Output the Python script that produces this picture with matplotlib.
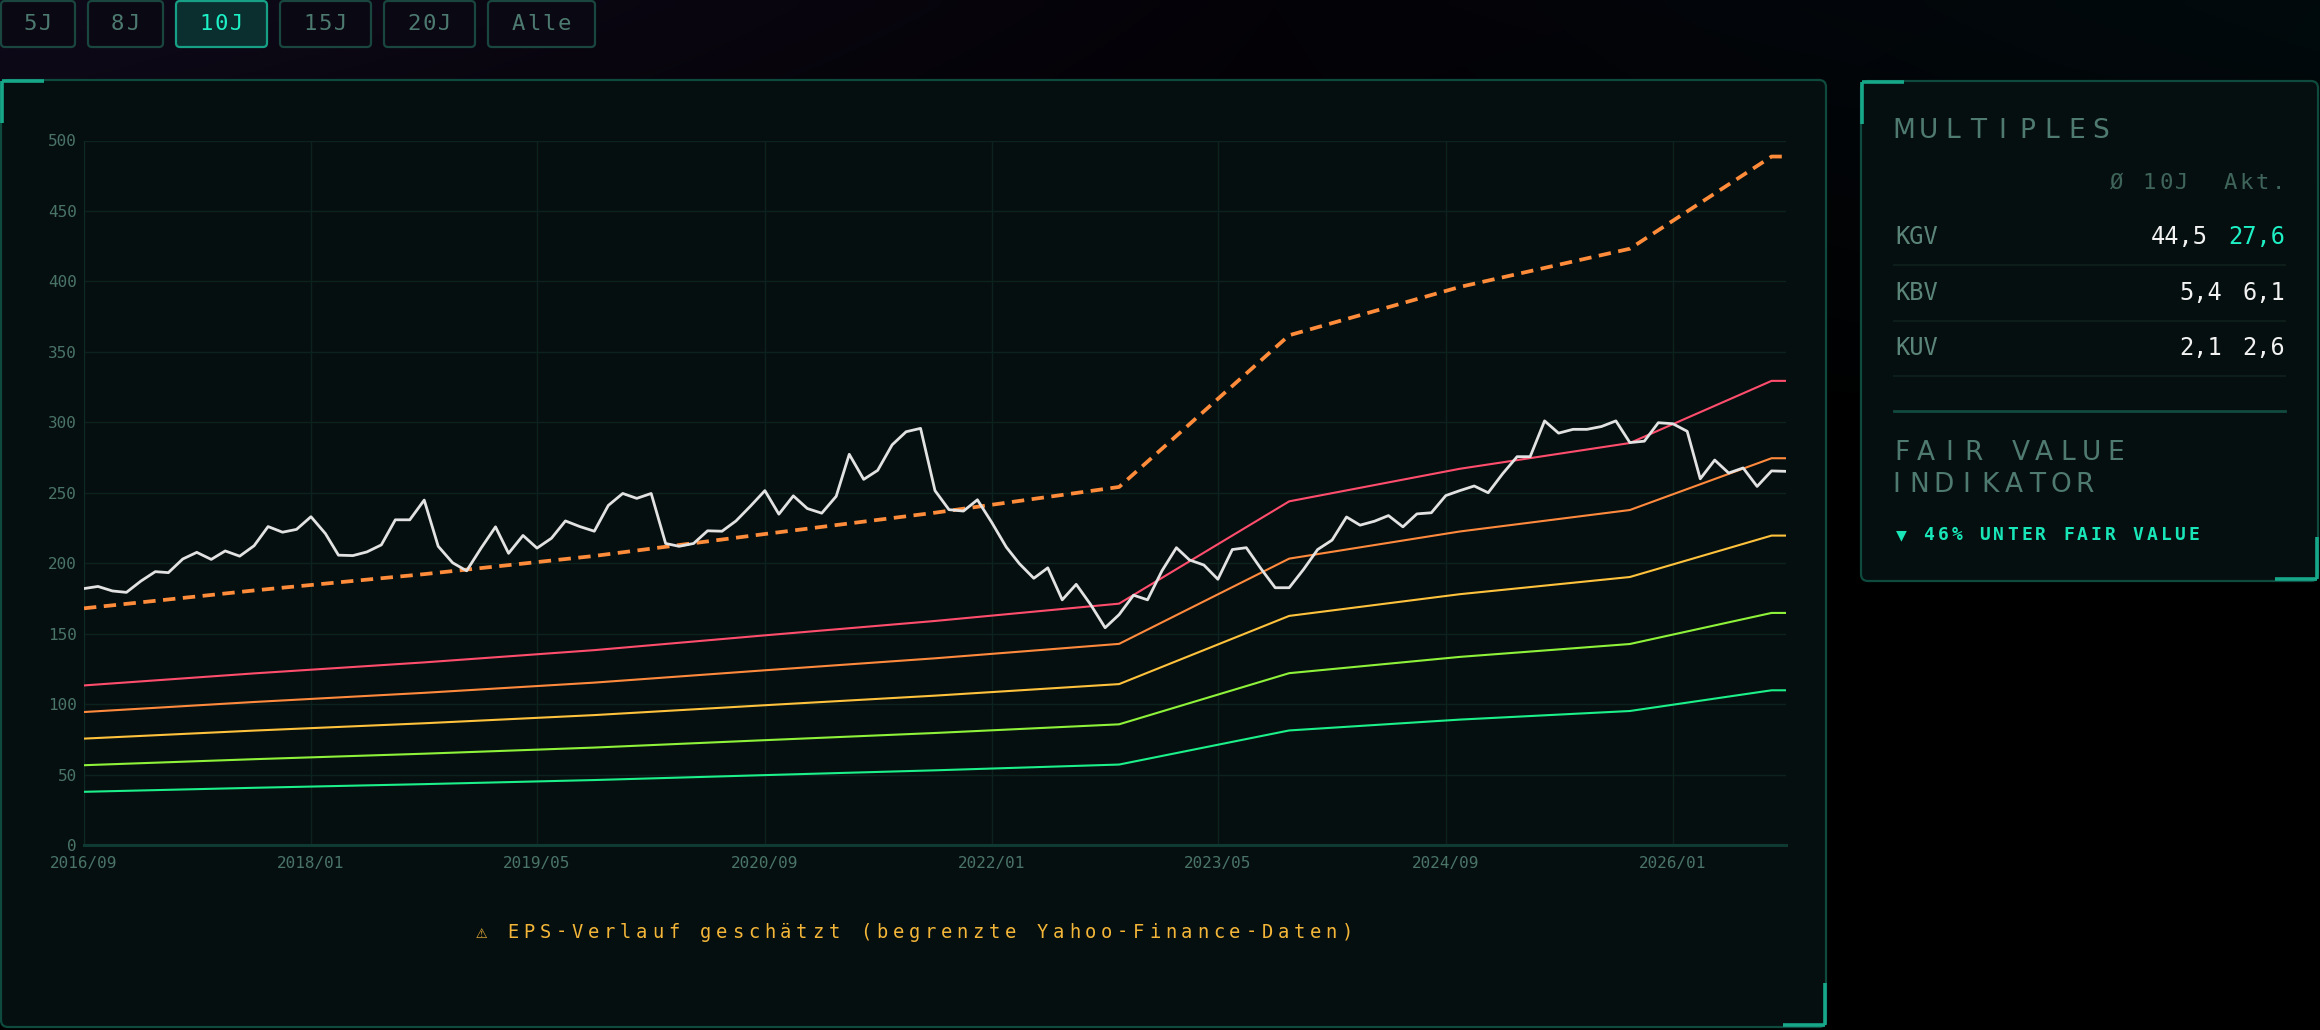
import numpy as np
import matplotlib
matplotlib.use("Agg")
import matplotlib.pyplot as plt
import matplotlib.dates as mdates
from matplotlib.patches import FancyBboxPatch

# ---- data ----
price = [182, 183.5, 180.3, 179.3, 187.3, 194, 193.3, 203, 207.7, 202.7,
         208.7, 205, 212.4, 226, 222, 224, 233, 221, 205.7, 205.4,
         208, 213, 230.8, 230.8, 244.8, 212, 200.3, 194.6, 210.7, 225.8,
         207, 219.7, 210.7, 217.7, 230, 226, 222.7, 241, 249.5, 246,
         249.5, 214, 212, 214, 223, 222.7, 230, 240.5, 251.5, 234.8,
         247.8, 238.8, 235.5, 247.5, 277.3, 259.5, 265.9, 284, 293.3, 295.7,
         251.5, 238, 237, 245, 228.8, 211.4, 199.7, 189.3, 196.7, 174,
         185, 170.6, 154.2, 163.5, 177.3, 174, 194.6, 211, 202.3, 198.7,
         188.6, 209.7, 211, 196.3, 182.6, 182.6, 195.7, 209.7, 216.4, 232.8,
         227, 229.8, 233.8, 225.8, 235, 235.8, 248, 251.5, 254.8, 250,
         263.5, 275.6, 275.6, 301, 292.3, 295, 295, 297, 301, 285.6,
         286.6, 299.7, 299, 293.6, 259.9, 273.2, 264, 267.6, 254.5, 265.5,
         265.2]
price_start = "2016-09"

eps_dates = ["2016-09", "2017-09", "2018-09", "2019-09", "2020-09", "2021-09",
             "2022-10", "2023-10", "2024-10", "2025-10", "2026-08", "2026-09"]
eps_values = [3.775, 4.06, 4.32, 4.61, 4.96, 5.30, 5.71, 8.13, 8.90, 9.51,
              10.98, 10.98]

kgv_avg = 44.5
band_multiples = [30, 25, 20, 15, 10]
band_colors = ["#ff4d6d", "#ff8a3d", "#ffc23d", "#8ef23a", "#1cf08a"]

x_ticks = ["2016-09", "2018-01", "2019-05", "2020-09", "2022-01", "2023-05",
           "2024-09", "2026-01"]
y_ticks = list(range(0, 501, 50))

buttons = ["5J", "8J", "10J", "15J", "20J", "Alle"]
active_button = "10J"

multiples_rows = ["KGV", "KBV", "KUV"]
avg_vals = ["44,5", "5,4", "2,1"]
akt_vals = ["27,6", "6,1", "2,6"]
fair_value_text = "▼ 46% UNTER FAIR VALUE"
warning_text = "⚠ EPS-Verlauf geschätzt (begrenzte Yahoo-Finance-Daten)"

# ---- colours ----
PANEL = "#060f0f"
EDGE = "#0f4a3f"
ACCENT = "#17a88a"
GRID = "#0c221e"
TICK = "#4a7468"
LABEL = "#5b8579"
HEAD = "#3f655b"
TITLE = "#4f7a6f"
TEAL = "#1ef0c6"
MONO = ["DejaVu Sans Mono", "DejaVu Sans"]

W, H = 2320, 1030
fig = plt.figure(figsize=(W / 100, H / 100), dpi=100)
fig.patch.set_facecolor("black")

# background layer in pixel coordinates
bg = fig.add_axes([0, 0, 1, 1])
bg.set_xlim(0, W)
bg.set_ylim(H, 0)
bg.axis("off")

gx = np.linspace(0, 1, 232)
gy = np.linspace(0, 1, 103)
left = np.array([15, 10, 26]) / 255
mid = np.array([4, 2, 7]) / 255
right = np.array([1, 10, 13]) / 255
row = np.where(gx[:, None] < 0.55,
               left + (mid - left) * (gx[:, None] / 0.55),
               mid + (right - mid) * ((gx[:, None] - 0.55) / 0.45))
fade = np.clip(1 - gy / 0.45, 0, 1)[:, None, None]
img = row[None, :, :] * fade
bg.imshow(img, extent=[0, W, H, 0], aspect="auto", interpolation="bilinear",
          zorder=0)


def panel(x0, y0, x1, y1):
    bg.add_patch(FancyBboxPatch((x0, y0), x1 - x0, y1 - y0,
                                boxstyle="round,pad=0,rounding_size=7",
                                facecolor=PANEL, edgecolor=EDGE, lw=1.6,
                                zorder=1))


def corners(x0, y0, x1, y1, n=42):
    kw = dict(color=ACCENT, lw=2.6, solid_capstyle="butt", zorder=2)
    bg.plot([x0, x0 + n], [y0, y0], **kw)
    bg.plot([x0, x0], [y0, y0 + n], **kw)
    bg.plot([x1 - n, x1], [y1, y1], **kw)
    bg.plot([x1, x1], [y1 - n, y1], **kw)


def spaced(x, y, s, step, **kw):
    for i, ch in enumerate(s):
        bg.text(x + i * step, y, ch, ha="center", va="center", **kw)


panel(1, 80, 1826, 1027)
corners(2, 81, 1825, 1025)
panel(1861, 81, 2318, 581)
corners(1862, 82, 2317, 579)

# range buttons
btn_x = [(1, 75), (88, 163), (176, 267), (280, 371), (384, 475), (488, 595)]
for (b0, b1), lab in zip(btn_x, buttons):
    on = lab == active_button
    bg.add_patch(FancyBboxPatch((b0, 1), b1 - b0, 46,
                                boxstyle="round,pad=0,rounding_size=4",
                                facecolor="#0b2e2f" if on else "#0a0812",
                                edgecolor="#16a085" if on else "#19463f",
                                lw=1.6, zorder=2))
    step = 15.5
    cx = (b0 + b1) / 2 - step * (len(lab) - 1) / 2
    spaced(cx, 24, lab, step, color=TEAL if on else "#4d7a70",
           fontsize=16, family=MONO, zorder=3)

# ---- chart ----
ax = fig.add_axes([84 / W, 1 - 845 / H, (1786 - 84) / W, (845 - 140.5) / H])
ax.set_facecolor("none")

dates = np.arange(np.datetime64(price_start, "M"),
                  np.datetime64(price_start, "M") + len(price)).astype("datetime64[D]")
edates = np.array(eps_dates, dtype="datetime64[M]").astype("datetime64[D]")
eps = np.array(eps_values)

for m, c in zip(band_multiples, band_colors):
    ax.plot(edates, eps * m, color=c, lw=1.5, zorder=3)
ax.plot(edates, eps * kgv_avg, color="#ff8c3a", lw=2.7, dashes=(3.3, 2.0),
        zorder=4)
ax.plot(dates, price, color="#e2e2e2", lw=2.0, zorder=5)

ax.set_xlim(dates[0], dates[-1])
ax.set_ylim(0, 500)
ax.set_yticks(y_ticks)
ax.set_xticks(np.array(x_ticks, dtype="datetime64[M]").astype("datetime64[D]"))
ax.xaxis.set_major_formatter(mdates.DateFormatter("%Y/%m"))
ax.grid(True, color=GRID, lw=1.0)
ax.set_axisbelow(True)
for s in ["top", "right"]:
    ax.spines[s].set_visible(False)
ax.spines["left"].set_color("#0d2a25")
ax.spines["bottom"].set_color("#0e3a33")
ax.spines["bottom"].set_linewidth(2.2)
ax.tick_params(length=0, labelcolor=TICK, labelsize=11.5)
ax.tick_params(axis="y", pad=5)
ax.tick_params(axis="x", pad=8)
for t in ax.get_xticklabels() + ax.get_yticklabels():
    t.set_family(MONO)

spaced(481, 932, warning_text, 16.04, color="#f4b638", fontsize=13.5,
       family=MONO)

# ---- multiples panel ----
spaced(1904, 131, "MULTIPLES", 24.6, color=TITLE, fontsize=19,
       family="DejaVu Sans")
spaced(2117, 183, "Ø 10J", 16.25, color=HEAD, fontsize=16, family=MONO)
spaced(2230, 183, "Akt.", 16, color=HEAD, fontsize=16, family=MONO)

row_y = [237, 293, 348]
cw = 14.4
for yy, lab, a, b in zip(row_y, multiples_rows, avg_vals, akt_vals):
    bg.text(1895, yy, lab, ha="left", va="center", color=LABEL, fontsize=17,
            family=MONO)
    bg.text(2285, yy, b, ha="right", va="center", fontsize=17, family=MONO,
            color=TEAL if lab == "KGV" else "#f2f2f2")
    bg.text(2285 - len(b) * cw - 19.4, yy, a, ha="right", va="center",
            color="#f2f2f2", fontsize=17, family=MONO)
    bg.plot([1894, 2285], [yy + 28, yy + 28], color="#0c1d1a", lw=1.5,
            zorder=2)

bg.plot([1894, 2285], [411, 411], color="#124a40", lw=2, zorder=2)
spaced(1902, 453, "FAIR VALUE", 23.7, color=TITLE, fontsize=19,
       family="DejaVu Sans")
spaced(1896, 485, "INDIKATOR", 23.6, color=TITLE, fontsize=19,
       family="DejaVu Sans")
spaced(1901, 535, fair_value_text, 13.95, color="#19e6b8", fontsize=13,
       family=MONO, fontweight="bold")

fig.savefig("out.png", dpi=100, facecolor=fig.get_facecolor())
